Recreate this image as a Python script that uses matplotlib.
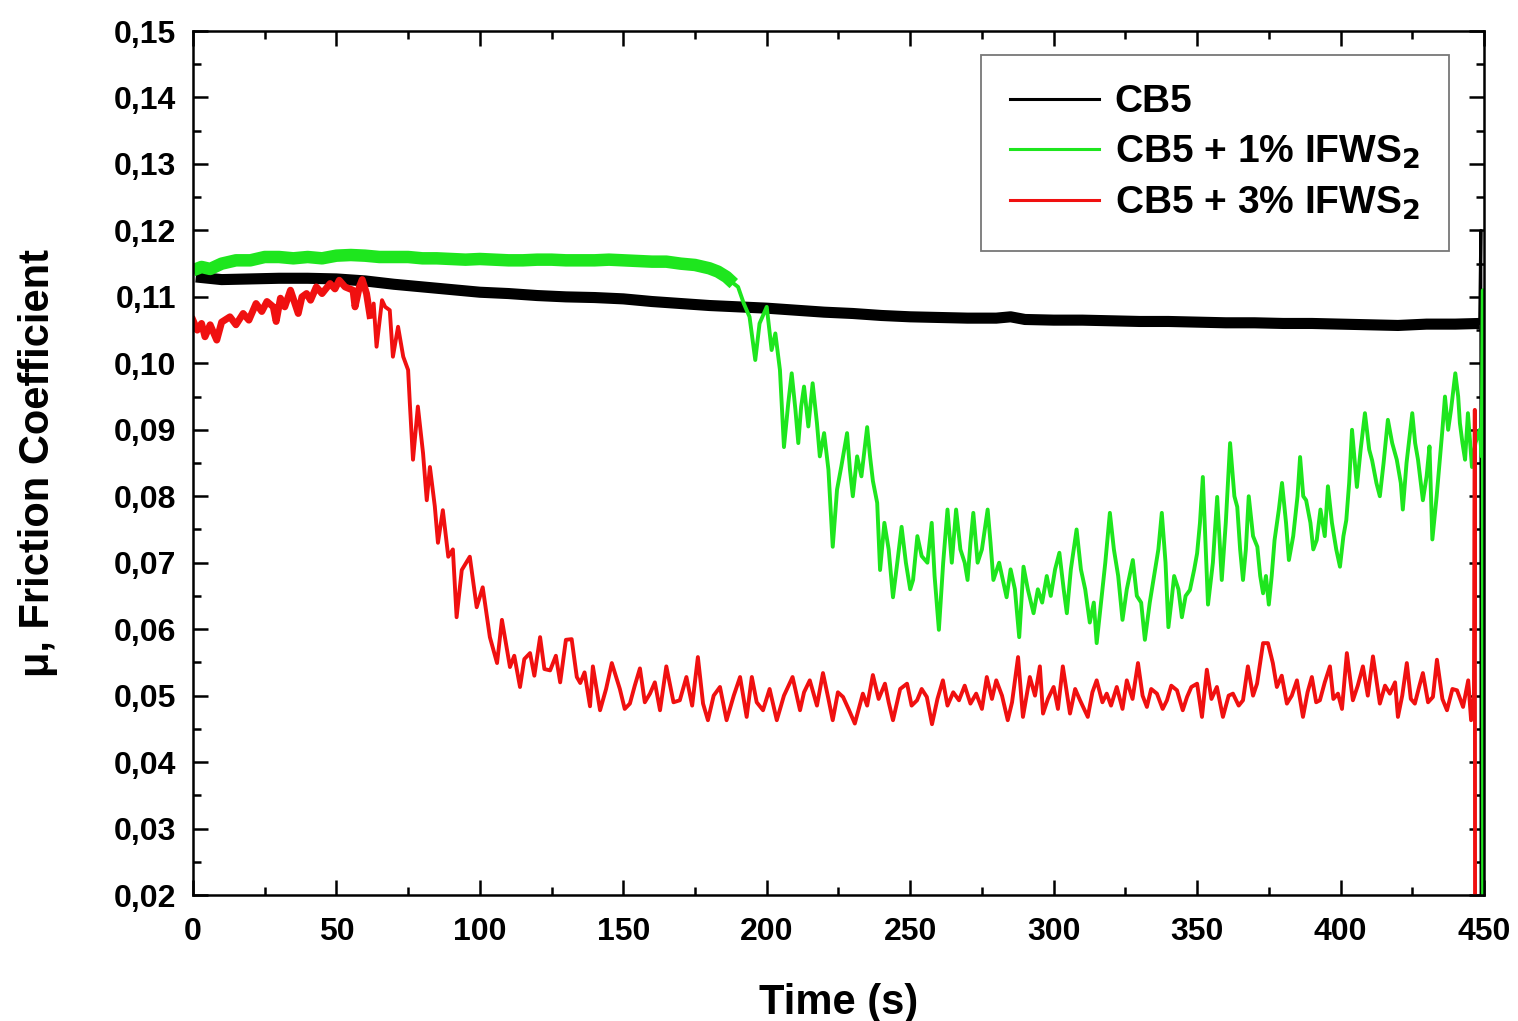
import matplotlib
matplotlib.use("Agg")
import matplotlib.pyplot as plt
from matplotlib.ticker import MultipleLocator, FuncFormatter
import numpy as np

plt.rcParams['font.family'] = ['Liberation Sans', 'DejaVu Sans']
plt.rcParams['font.weight'] = 'bold'
plt.rcParams['mathtext.default'] = 'bf'

# ---------------- data ----------------
labels = ["CB5", "CB5 + 1% IFWS$_\\mathbf{2}$", "CB5 + 3% IFWS$_\\mathbf{2}$"]

cb5_t = [1, 10, 20, 30, 40, 50, 60, 70, 80, 90, 100, 110, 120, 130, 140, 150,
         160, 170, 180, 190, 200, 210, 220, 230, 240, 250, 260, 270, 280, 285,
         290, 300, 310, 320, 330, 340, 350, 360, 370, 380, 390, 400, 410, 420,
         430, 440, 448.5, 448.9, 449.0]
cb5_mu = [0.1130, 0.1126, 0.1127, 0.1128, 0.1128, 0.1127, 0.1124, 0.1119, 0.1115,
          0.1111, 0.1107, 0.1105, 0.1102, 0.1100, 0.1099, 0.1097, 0.1093, 0.1090,
          0.1087, 0.1085, 0.1083, 0.1080, 0.1077, 0.1075, 0.1072, 0.1070, 0.1069,
          0.1068, 0.1068, 0.1070, 0.1066, 0.1065, 0.1065, 0.1064, 0.1063, 0.1063,
          0.1062, 0.1061, 0.1061, 0.1060, 0.1060, 0.1059, 0.1058, 0.1057, 0.1059,
          0.1059, 0.1060, 0.1200, 0.0]

ifws1_t = [0, 3, 6, 10, 15, 20, 25, 30, 35, 40, 45, 50, 55, 60, 65, 70, 75, 80,
           85, 90, 95, 100, 105, 110, 115, 120, 125, 130, 135, 140, 145, 150, 155,
           160, 165, 170, 175, 180, 183, 186, 188.5,
           190, 192, 194, 196, 197.5, 199, 200, 201.7, 203, 204.6, 206, 207.5,
           208.7, 210, 211, 212, 213, 214.5, 216, 217.5, 218.5, 220, 221.5, 223,
           224.5, 226, 228, 229, 230, 231.5, 233, 235, 236, 237, 238.5, 239.5,
           241, 242.5, 244, 245.5, 247, 248.5, 250, 251, 252.5, 254, 256, 257.5,
           258.5, 260, 261.5, 263, 264.5, 266, 267.5, 269, 270, 271, 272, 273.5,
           275, 277, 278, 279, 281, 282.5, 283.6, 285, 286.5, 288, 289.5, 291,
           293, 294.5, 296, 297.6, 299, 300.5, 302, 303.5, 304.6, 306, 308, 309.5,
           311, 312.6, 314, 315, 316.5, 318, 319.6, 321, 322.5, 324, 325.5, 327.6,
           329, 330.5, 331.8, 333.5, 335, 336.5, 337.7, 339, 340, 341, 342, 343.5,
           344.7, 346, 347.5, 349, 350, 351, 352, 353.8, 355.5, 357, 358.6, 360,
           361.5, 363, 364, 365, 366, 367, 368, 369.5, 371, 372, 373, 374, 375,
           376, 377, 378.5, 379.6, 381, 382, 383.5, 385, 385.9, 387, 388, 389.5,
           390.5, 391.7, 393, 394.5, 395.6, 397, 398.5, 399.8, 401, 402, 403, 404,
           405.7, 407, 408.5, 410, 411, 412.5, 413.7, 415, 416.5, 418, 419.6, 421,
           421.7, 423, 425, 426, 427, 428.7, 430, 431, 432, 433.5, 434.6, 435.5,
           436.4, 437.5, 438.5, 440, 441, 441.6, 442.5, 443.4, 444.4, 445.8, 447,
           448.5, 449.2, 449.6, 449.7]
ifws1_mu = [0.1140, 0.1145, 0.1142, 0.1150, 0.1155, 0.1155, 0.1160, 0.1160, 0.1158,
            0.1160, 0.1158, 0.1162, 0.1163, 0.1162, 0.1160, 0.1160, 0.1160, 0.1158,
            0.1158, 0.1157, 0.1156, 0.1157, 0.1156, 0.1155, 0.1155, 0.1156, 0.1156,
            0.1155, 0.1155, 0.1155, 0.1156, 0.1155, 0.1154, 0.1153, 0.1153, 0.1150,
            0.1148, 0.1143, 0.1138, 0.1130, 0.1120,
            0.1115, 0.1090, 0.1070, 0.1005, 0.1060, 0.1075, 0.1085, 0.1020, 0.1045,
            0.0990, 0.0874, 0.0940, 0.0985, 0.0930, 0.0880, 0.0935, 0.0965, 0.0905,
            0.0970, 0.0910, 0.0860, 0.0895, 0.0840, 0.0724, 0.0810, 0.0845, 0.0895,
            0.0840, 0.0800, 0.0860, 0.0830, 0.0904, 0.0860, 0.0823, 0.0790, 0.0689,
            0.0760, 0.0720, 0.0648, 0.0700, 0.0754, 0.0700, 0.0660, 0.0674, 0.0740,
            0.0710, 0.0700, 0.0760, 0.0680, 0.0599, 0.0700, 0.0780, 0.0700, 0.0780,
            0.0720, 0.0700, 0.0674, 0.0730, 0.0775, 0.0700, 0.0720, 0.0780, 0.0730,
            0.0674, 0.0700, 0.0670, 0.0648, 0.0690, 0.0660, 0.0588, 0.0694, 0.0660,
            0.0624, 0.0660, 0.0640, 0.0680, 0.0650, 0.0690, 0.0715, 0.0660, 0.0624,
            0.0690, 0.0750, 0.0690, 0.0660, 0.0610, 0.0640, 0.0579, 0.0640, 0.0700,
            0.0775, 0.0720, 0.0680, 0.0614, 0.0660, 0.0704, 0.0650, 0.0640, 0.0584,
            0.0640, 0.0680, 0.0720, 0.0775, 0.0700, 0.0603, 0.0640, 0.0680, 0.0660,
            0.0618, 0.0650, 0.0659, 0.0690, 0.0714, 0.0760, 0.0829, 0.0637, 0.0700,
            0.0799, 0.0674, 0.0760, 0.0880, 0.0800, 0.0784, 0.0720, 0.0674, 0.0720,
            0.0800, 0.0740, 0.0724, 0.0680, 0.0654, 0.0680, 0.0637, 0.0680, 0.0734,
            0.0780, 0.0820, 0.0760, 0.0704, 0.0740, 0.0800, 0.0859, 0.0800, 0.0794,
            0.0760, 0.0720, 0.0734, 0.0780, 0.0740, 0.0815, 0.0760, 0.0720, 0.0694,
            0.0740, 0.0764, 0.0820, 0.0900, 0.0814, 0.0870, 0.0925, 0.0870, 0.0854,
            0.0820, 0.0800, 0.0850, 0.0915, 0.0880, 0.0855, 0.0820, 0.0780, 0.0850,
            0.0925, 0.0880, 0.0855, 0.0794, 0.0830, 0.0875, 0.0735, 0.0800, 0.0854,
            0.0900, 0.0950, 0.0900, 0.0930, 0.0985, 0.0950, 0.0910, 0.0880, 0.0855,
            0.0925, 0.0844, 0.0880, 0.0900, 0.0860, 0.1110, 0.0]

ifws3_t = [0, 1.5, 3, 4.2, 6, 8.3, 10, 12.9, 15, 17.5, 19.5, 22, 24, 25.8, 28, 29,
           30.5, 32, 34, 36.7, 38, 39.6, 41, 43, 45, 47.8, 49.5, 51, 53, 55.8, 56.5,
           58, 59, 60.5, 61.7, 63, 64, 65.9, 67, 68.6, 69.7, 71.5, 73.3, 75, 75.6,
           76.7, 78.4, 80.2, 81.5, 82.6, 84.3, 85.4, 87.1, 89, 90.6, 91.9, 93.7,
           96.5, 98.9, 101, 103.5, 106, 107.7, 110.5, 112, 114, 115.5, 117.5, 119,
           121, 122.5, 124.5, 126.5, 128, 130, 132, 133.8, 135, 136.5, 138.4, 139.4,
           141.9, 144, 146, 148.8, 150.5, 152.3, 154, 155.8, 157.5, 159.3, 161,
           162.8, 165, 167.5, 169.7, 172, 174, 176, 177.8, 179.5, 181.5, 183.7, 186,
           188.5, 190.7, 193, 194.8, 196.5, 198.7, 201, 203.5, 206, 209, 211.6, 213,
           215, 217.5, 219.6, 221.5, 223, 224.8, 226.6, 228.5, 230.7, 233.5, 235,
           237, 239, 241.2, 242.5, 244, 246.5, 248.9, 250.5, 252.4, 254, 255.8,
           257.6, 259.5, 261.4, 263, 265, 267, 269, 271, 273, 275, 276.7, 278.5,
           280, 282, 284, 285.5, 287.6, 289.3, 291.7, 293.5, 295.2, 296.3, 298, 300,
           301.5, 303.2, 305.7, 307.5, 309.2, 311.9, 313.5, 315, 317, 318.5, 320,
           322, 324, 325.5, 327.5, 329.4, 331, 332.5, 334, 336, 338, 339.5, 341,
           343, 345, 346.5, 348, 350, 351.7, 353.4, 355, 356.9, 359, 361, 362.5,
           364.5, 366, 367.7, 369.5, 370.9, 373, 374.7, 376.4, 377.8, 379.5, 381.3,
           383, 384.8, 386.9, 388.5, 390, 391.5, 392.8, 394.5, 396.3, 397.5, 399.1,
           400.5, 402.2, 404.3, 406, 407.8, 409.5, 411.3, 413.7, 415.5, 417.2, 419,
           420, 421.5, 423.1, 424.5, 425.9, 427.5, 428.7, 430.5, 432.2, 433.6,
           435.5, 437.1, 439, 440.6, 442.7, 444.5, 445.5, 446.5, 446.8, 446.9]
ifws3_mu = [0.1065, 0.1050, 0.1060, 0.1040, 0.1058, 0.1035, 0.1062, 0.1070, 0.1058,
            0.1075, 0.1065, 0.1090, 0.1078, 0.1093, 0.1085, 0.1063, 0.1098, 0.1085,
            0.1110, 0.1075, 0.1100, 0.1105, 0.1095, 0.1115, 0.1105, 0.1120, 0.1112,
            0.1125, 0.1115, 0.1110, 0.1085, 0.1115, 0.1126, 0.1105, 0.1072, 0.1090,
            0.1025, 0.1095, 0.1085, 0.1080, 0.1010, 0.1055, 0.1010, 0.0990, 0.0940,
            0.0855, 0.0935, 0.0865, 0.0794, 0.0844, 0.0785, 0.0730, 0.0779, 0.0709,
            0.0720, 0.0618, 0.0689, 0.0709, 0.0633, 0.0663, 0.0588, 0.0549, 0.0614,
            0.0543, 0.0560, 0.0513, 0.0555, 0.0564, 0.0530, 0.0588, 0.0540, 0.0538,
            0.0560, 0.0520, 0.0584, 0.0585, 0.0528, 0.0519, 0.0535, 0.0484, 0.0544,
            0.0478, 0.0510, 0.0549, 0.0510, 0.0480, 0.0488, 0.0515, 0.0541, 0.0490,
            0.0503, 0.0520, 0.0478, 0.0544, 0.0490, 0.0493, 0.0528, 0.0485, 0.0558,
            0.0488, 0.0463, 0.0500, 0.0513, 0.0463, 0.0500, 0.0528, 0.0468, 0.0528,
            0.0490, 0.0478, 0.0510, 0.0463, 0.0500, 0.0528, 0.0478, 0.0505, 0.0523,
            0.0485, 0.0534, 0.0495, 0.0463, 0.0505, 0.0498, 0.0480, 0.0458, 0.0503,
            0.0485, 0.0531, 0.0495, 0.0518, 0.0490, 0.0463, 0.0510, 0.0518, 0.0485,
            0.0493, 0.0510, 0.0498, 0.0457, 0.0495, 0.0523, 0.0485, 0.0505, 0.0493,
            0.0515, 0.0488, 0.0503, 0.0480, 0.0528, 0.0495, 0.0523, 0.0500, 0.0463,
            0.0490, 0.0558, 0.0468, 0.0528, 0.0500, 0.0544, 0.0473, 0.0495, 0.0513,
            0.0480, 0.0544, 0.0473, 0.0510, 0.0493, 0.0468, 0.0505, 0.0523, 0.0490,
            0.0503, 0.0485, 0.0513, 0.0480, 0.0523, 0.0495, 0.0549, 0.0500, 0.0483,
            0.0510, 0.0503, 0.0480, 0.0493, 0.0515, 0.0508, 0.0478, 0.0498, 0.0513,
            0.0518, 0.0468, 0.0539, 0.0495, 0.0513, 0.0468, 0.0500, 0.0503, 0.0485,
            0.0493, 0.0544, 0.0500, 0.0518, 0.0579, 0.0579, 0.0549, 0.0513, 0.0530,
            0.0488, 0.0500, 0.0523, 0.0468, 0.0505, 0.0528, 0.0490, 0.0493, 0.0520,
            0.0544, 0.0495, 0.0503, 0.0480, 0.0564, 0.0493, 0.0515, 0.0544, 0.0500,
            0.0559, 0.0488, 0.0515, 0.0503, 0.0520, 0.0468, 0.0500, 0.0549, 0.0495,
            0.0488, 0.0515, 0.0534, 0.0490, 0.0498, 0.0554, 0.0495, 0.0478, 0.0510,
            0.0508, 0.0483, 0.0523, 0.0463, 0.0500, 0.0930, 0.0]

# ---------------- figure ----------------
BLACK = "#000000"
GREEN = "#1ee61e"
RED = "#f01010"

fig = plt.figure(figsize=(15.18, 10.21), dpi=100)
ax = fig.add_axes([0.1271, 0.1234, 0.8505, 0.8462])

t0 = np.array(cb5_t); m0 = np.array(cb5_mu)
t1 = np.array(ifws1_t); m1 = np.array(ifws1_mu)
t3 = np.array(ifws3_t); m3 = np.array(ifws3_mu)

# CB5: dense band drawn as a thick line, end-of-test spike drawn thin
body = t0 <= 448.5
ax.plot(t0[body], m0[body], color=BLACK, lw=8, solid_joinstyle='round',
        solid_capstyle='butt')
tail = t0 >= 448.5
ax.plot(t0[tail], m0[tail], color=BLACK, lw=2.2)

# 1% IFWS2: dense band while flat, thin noisy line afterwards
flat = t1 <= 188.5
ax.plot(t1[flat], m1[flat], color=GREEN, lw=9, solid_joinstyle='round',
        solid_capstyle='butt')
sel = t1 >= 183
ax.plot(t1[sel], m1[sel], color=GREEN, lw=2.8)

# 3% IFWS2
early = t3 <= 62
ax.plot(t3[early], m3[early], color=RED, lw=5, solid_joinstyle='round')
ax.plot(t3, m3, color=RED, lw=2.8)

# legend
h = [plt.Line2D([], [], color=BLACK, lw=2.2),
     plt.Line2D([], [], color=GREEN, lw=2.2),
     plt.Line2D([], [], color=RED, lw=2.2)]
leg = ax.legend(h, labels, loc='upper right', bbox_to_anchor=(0.9729, 0.9722),
                borderaxespad=0, frameon=True, fancybox=False, fontsize=28,
                handlelength=2.3, handletextpad=0.4, labelspacing=0.35,
                borderpad=0.75)
leg.get_frame().set_edgecolor('#555555')
leg.get_frame().set_linewidth(1.3)

ax.set_xlim(0, 450)
ax.set_ylim(0.02, 0.15)
ax.xaxis.set_major_locator(MultipleLocator(50))
ax.xaxis.set_minor_locator(MultipleLocator(25))
ax.yaxis.set_major_locator(MultipleLocator(0.01))
ax.yaxis.set_minor_locator(MultipleLocator(0.005))
ax.yaxis.set_major_formatter(FuncFormatter(lambda v, p: f"{v:.2f}".replace('.', ',')))

ax.tick_params(which='both', direction='in', top=True, right=True, width=1.8)
ax.tick_params(which='major', length=11)
ax.tick_params(which='minor', length=6)
ax.tick_params(axis='x', which='major', pad=16, labelsize=23)
ax.tick_params(axis='y', which='major', pad=12, labelsize=23)
for lab in ax.get_xticklabels() + ax.get_yticklabels():
    lab.set_fontweight('bold')
for s in ax.spines.values():
    s.set_linewidth(1.8)

ax.set_xlabel("Time (s)", fontsize=30, fontweight='bold', labelpad=26)
ax.set_ylabel("μ, Friction Coefficient", fontsize=30, fontweight='bold', labelpad=40)

fig.savefig("out.png", dpi=100)
